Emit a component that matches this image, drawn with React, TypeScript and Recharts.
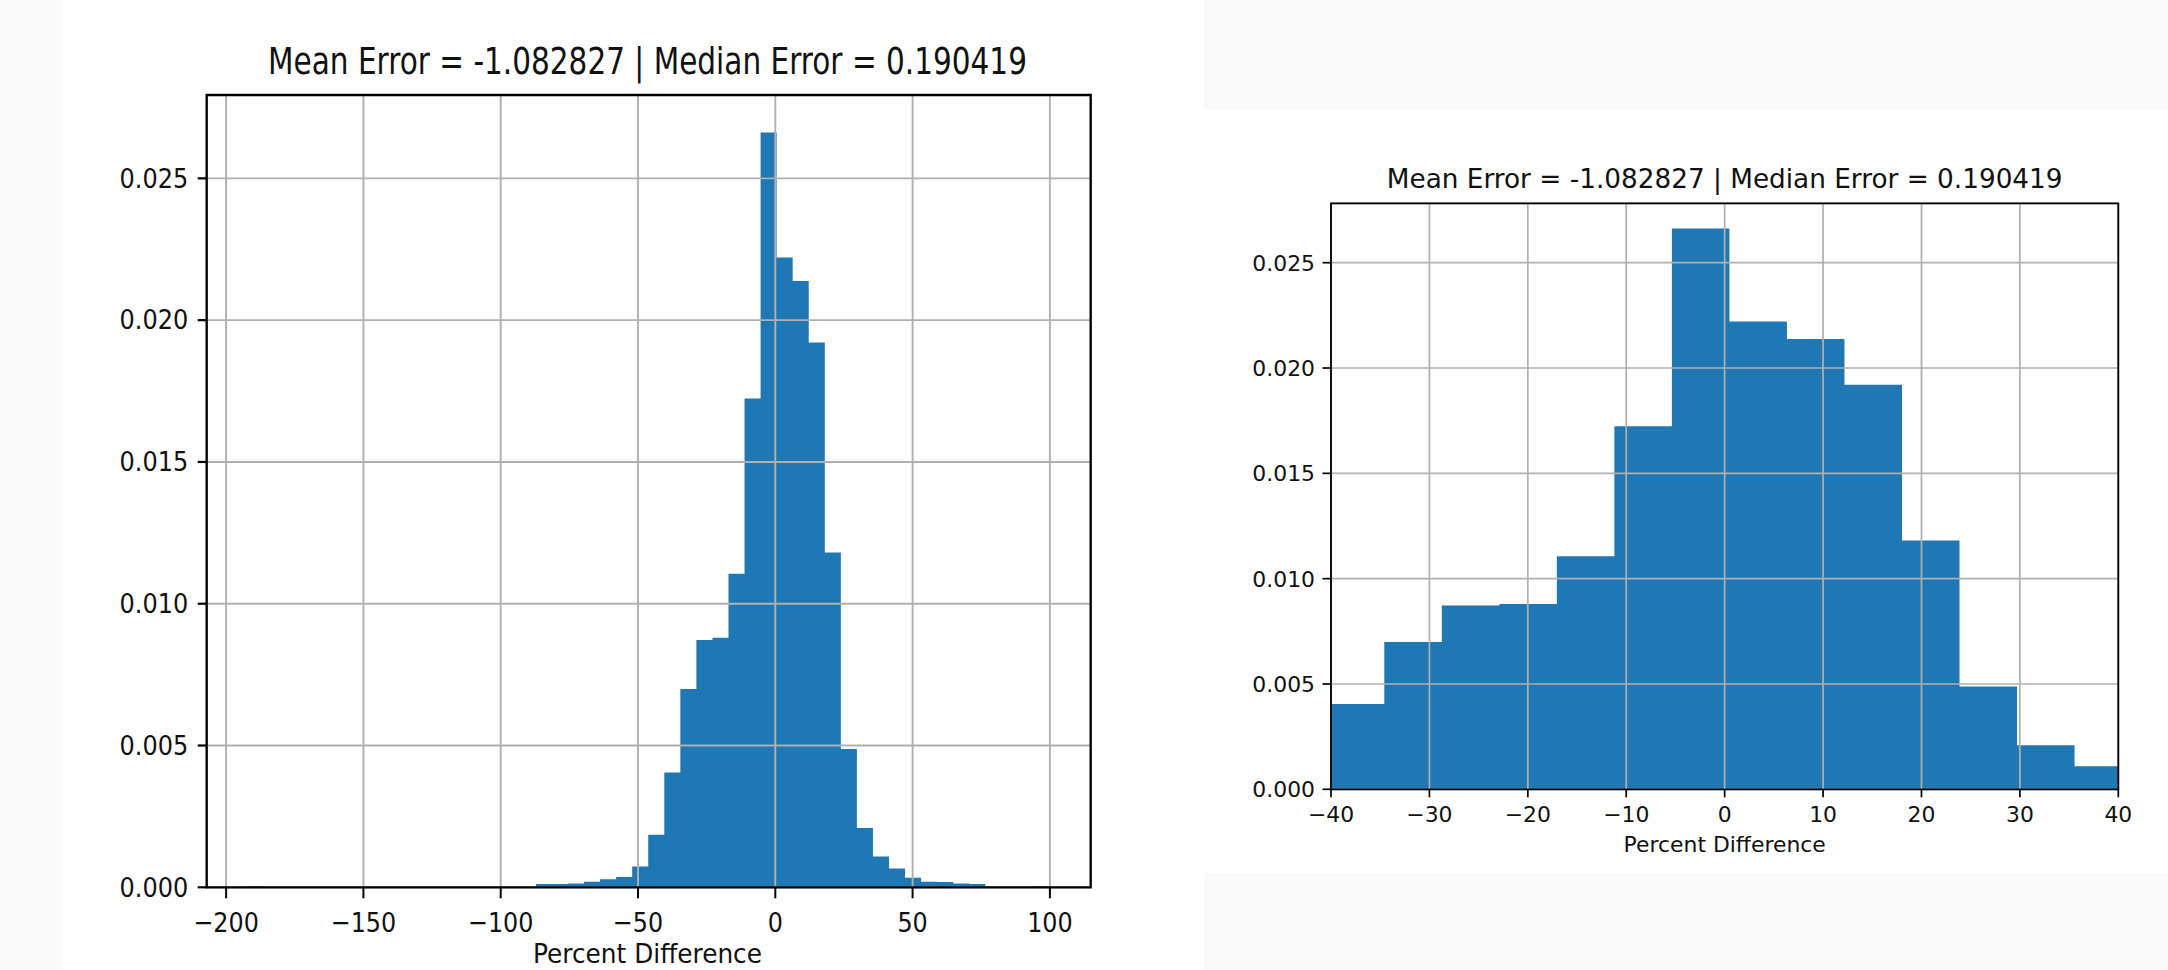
import React from 'react';
import { ComposedChart, Area, XAxis, YAxis, CartesianGrid, ReferenceArea } from 'recharts';

// ---- data ----
const BIN_MIN = -192.4;
const BIN_WIDTH = 5.845;
const density = [
  0.00002, 0, 0, 0, 0, 0, 0, 0, 0, 0,
  0, 0, 0, 0, 0, 0, 0, 0, 0.00012, 0.00012,
  0.00013, 0.0002, 0.00028, 0.00036, 0.00073, 0.00185, 0.00405, 0.00699, 0.00872, 0.0088,
  0.01106, 0.01724, 0.02662, 0.02221, 0.02138, 0.01921, 0.01181, 0.00488, 0.00209, 0.00109,
  0.00066, 0.00034, 0.0002, 0.00019, 0.00013, 0.00012, 0, 0, 0, 0.00002,
];
const leftXTicks = [-200, -150, -100, -50, 0, 50, 100];
const rightXTicks = [-40, -30, -20, -10, 0, 10, 20, 30, 40];
const yTicks = [0, 0.005, 0.01, 0.015, 0.02, 0.025];
const titleText = 'Mean Error = -1.082827 | Median Error = 0.190419';
const xLabelText = 'Percent Difference';

const histData = [
  ...density.map((d, i) => ({ x: BIN_MIN + i * BIN_WIDTH, density: d })),
  { x: BIN_MIN + density.length * BIN_WIDTH, density: density[density.length - 1] },
];

// ---- style ----
const FONT = 'DejaVu Sans';
const TEXT = '#111111';
const BAR = '#1f77b4';
const GRID = '#b0b0b0';

const fmtX = (v: number) => String(v).replace('-', '\u2212');
const fmtY = (v: number) => v.toFixed(3);

function makeTick(anchor: 'middle' | 'end', fontSize: number, sx: number, dy: number, fmt: (v: number) => string) {
  return (props: any) => {
    const { x, y, payload } = props;
    return (
      <g transform={`translate(${x},${y})`}>
        <text
          textAnchor={anchor}
          fontSize={fontSize}
          fontFamily={FONT}
          fill={TEXT}
          dy={dy}
          transform={`scale(${sx},1)`}
        >
          {fmt(payload.value)}
        </text>
      </g>
    );
  };
}

const LEFT_X_DOMAIN: [number, number] = [-207.07, 114.86];
const LEFT_Y_DOMAIN: [number, number] = [0, 0.02794];
const RIGHT_X_DOMAIN: [number, number] = [-40, 40];
const RIGHT_Y_DOMAIN: [number, number] = [0, 0.02782];

function LeftChart() {
  return (
    <ComposedChart
      width={1204}
      height={970}
      data={histData}
      margin={{ top: 95, right: 113.3, bottom: 22.7, left: 56.7 }}
    >
      <Area
        type="stepAfter"
        dataKey="density"
        fill={BAR}
        fillOpacity={1}
        stroke="none"
        baseValue={0}
        isAnimationActive={false}
        dot={false}
        activeDot={false}
      />
      <CartesianGrid stroke={GRID} strokeWidth={1.9} zIndex={150} />
      <XAxis
        type="number"
        dataKey="x"
        domain={LEFT_X_DOMAIN}
        allowDataOverflow
        ticks={leftXTicks}
        interval={0}
        height={60}
        tickSize={11}
        tickMargin={0}
        axisLine={false}
        tickLine={{ stroke: '#000', strokeWidth: 2 }}
        tick={makeTick('middle', 27.4, 0.87, 33.4, fmtX)}
      />
      <YAxis
        type="number"
        domain={LEFT_Y_DOMAIN}
        allowDataOverflow
        ticks={yTicks}
        interval={0}
        width={150}
        tickSize={9}
        tickMargin={9.5}
        axisLine={false}
        tickLine={{ stroke: '#000', strokeWidth: 2.2 }}
        tick={makeTick('end', 27.4, 0.875, 9.2, fmtY)}
      />
      <ReferenceArea
        x1={LEFT_X_DOMAIN[0]}
        x2={LEFT_X_DOMAIN[1]}
        y1={LEFT_Y_DOMAIN[0]}
        y2={LEFT_Y_DOMAIN[1]}
        fill="none"
        fillOpacity={0}
        stroke="#000"
        strokeWidth={2.3}
        ifOverflow="visible"
        zIndex={600}
      />
    </ComposedChart>
  );
}

function RightChart() {
  return (
    <ComposedChart
      width={964}
      height={763}
      data={histData}
      margin={{ top: 93.3, right: 49.7, bottom: 23.7, left: 27 }}
    >
      <Area
        type="stepAfter"
        dataKey="density"
        fill={BAR}
        fillOpacity={1}
        stroke="none"
        baseValue={0}
        isAnimationActive={false}
        dot={false}
        activeDot={false}
      />
      <CartesianGrid stroke={GRID} strokeWidth={1.7} zIndex={150} />
      <XAxis
        type="number"
        dataKey="x"
        domain={RIGHT_X_DOMAIN}
        allowDataOverflow
        ticks={rightXTicks}
        interval={0}
        height={60}
        tickSize={8}
        tickMargin={0}
        axisLine={false}
        tickLine={{ stroke: '#000', strokeWidth: 1.7 }}
        tick={makeTick('middle', 21.9, 1, 24.7, fmtX)}
      />
      <YAxis
        type="number"
        domain={RIGHT_Y_DOMAIN}
        allowDataOverflow
        ticks={yTicks}
        interval={0}
        width={100}
        tickSize={8.5}
        tickMargin={7.5}
        axisLine={false}
        tickLine={{ stroke: '#000', strokeWidth: 1.7 }}
        tick={makeTick('end', 21.9, 1, 8, fmtY)}
      />
      <ReferenceArea
        x1={RIGHT_X_DOMAIN[0]}
        x2={RIGHT_X_DOMAIN[1]}
        y1={RIGHT_Y_DOMAIN[0]}
        y2={RIGHT_Y_DOMAIN[1]}
        fill="none"
        fillOpacity={0}
        stroke="#000"
        strokeWidth={1.8}
        ifOverflow="visible"
        zIndex={600}
      />
    </ComposedChart>
  );
}

export default function App() {
  return (
    <div style={{ position: 'absolute', left: 0, top: 0, width: 2168, height: 970, background: '#fafafa', overflow: 'hidden' }}>
      <div style={{ position: 'absolute', left: 62, top: 0, width: 1142, height: 970, background: '#ffffff' }} />
      <div style={{ position: 'absolute', left: 1204, top: 110, width: 964, height: 763, background: '#ffffff' }} />
      <div style={{ position: 'absolute', left: 0, top: 0 }}>
        <LeftChart />
      </div>
      <div style={{ position: 'absolute', left: 1204, top: 110 }}>
        <RightChart />
      </div>
      <svg
        width={2168}
        height={970}
        style={{ position: 'absolute', left: 0, top: 0, pointerEvents: 'none' }}
      >
        <text transform="translate(647.5,74) scale(0.79,1)" textAnchor="middle" fontSize={37.4} fontFamily={FONT} fill={TEXT}>
          {titleText}
        </text>
        <text transform="translate(647.5,962.5) scale(0.905,1)" textAnchor="middle" fontSize={27.4} fontFamily={FONT} fill={TEXT}>
          {xLabelText}
        </text>
        <text x={1724.7} y={187.7} textAnchor="middle" fontSize={26.3} fontFamily={FONT} fill={TEXT}>
          {titleText}
        </text>
        <text x={1724.7} y={852} textAnchor="middle" fontSize={21.9} fontFamily={FONT} fill={TEXT}>
          {xLabelText}
        </text>
      </svg>
    </div>
  );
}
